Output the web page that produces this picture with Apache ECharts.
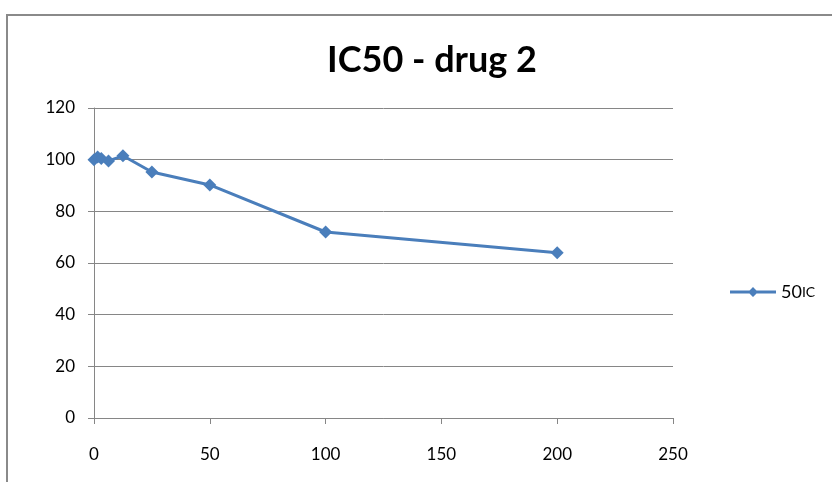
<!DOCTYPE html>
<html><head><meta charset="utf-8">
<script src="https://cdn.jsdelivr.net/npm/echarts@6/dist/echarts.min.js"></script>
<style>html,body{margin:0;padding:0;background:#fff}#c{width:832px;height:482px}</style>
</head><body><div id="c"></div>
<script>
const concentrations = [0, 1.5625, 3.125, 6.25, 12.5, 25, 50, 100, 200];
const viability = [100, 101, 100.5, 99.5, 101.5, 95.2, 90.2, 72, 64];
const seriesName = '50IC';
const titleText = 'IC50 - drug 2';

const chart = echarts.init(document.getElementById('c'));
chart.setOption({
  animation: false,
  graphic: [{type:'rect', shape:{x:7,y:15,width:900,height:600}, style:{fill:'none', stroke:'#8a8a8a', lineWidth:2}}],
  title: {text: titleText, left: 427, top: 37, textAlign:'center',
    textStyle:{fontFamily:'Lato', fontWeight:'bold', fontSize:36, color:'#000'}},
  legend: {left: 725, top: 278, itemWidth: 46, itemHeight: 11, itemGap: 5,
    formatter: n => n.slice(0,2) + '{s|' + n.slice(2) + '}',
    textStyle:{fontFamily:'Lato', fontSize:18, color:'#000', rich:{s:{fontFamily:'Lato', fontSize:14, color:'#000'}}},
    data:[{name: seriesName, icon:'path://M0,5.5H19.5L23,2L26.5,5.5H46V8.5H26.5L23,12L19.5,8.5H0Z'}]},
  grid: {left: 94, right: 159, top: 108, bottom: 64},
  xAxis: {type:'value', min:0, max:250, interval:50,
    axisLine:{lineStyle:{color:'#868686', width:1}},
    axisTick:{show:true, length:6, lineStyle:{color:'#868686'}},
    axisLabel:{fontFamily:'Lato', fontSize:17, color:'#000', margin:28},
    splitLine:{show:false}},
  yAxis: {type:'value', min:0, max:120, interval:20,
    axisLine:{show:true, lineStyle:{color:'#868686', width:1}},
    axisTick:{show:true, length:6, lineStyle:{color:'#868686'}},
    axisLabel:{fontFamily:'Lato', fontSize:17, color:'#000', margin:19},
    splitLine:{lineStyle:{color:'#868686', width:1}}},
  series: [{name: seriesName, type:'line', data: concentrations.map((c,i)=>[c, viability[i]]),
    symbol:'diamond', symbolSize:13, lineStyle:{color:'#4a7ebb', width:3},
    itemStyle:{color:'#4a7ebb'}}]
});
</script></body></html>
